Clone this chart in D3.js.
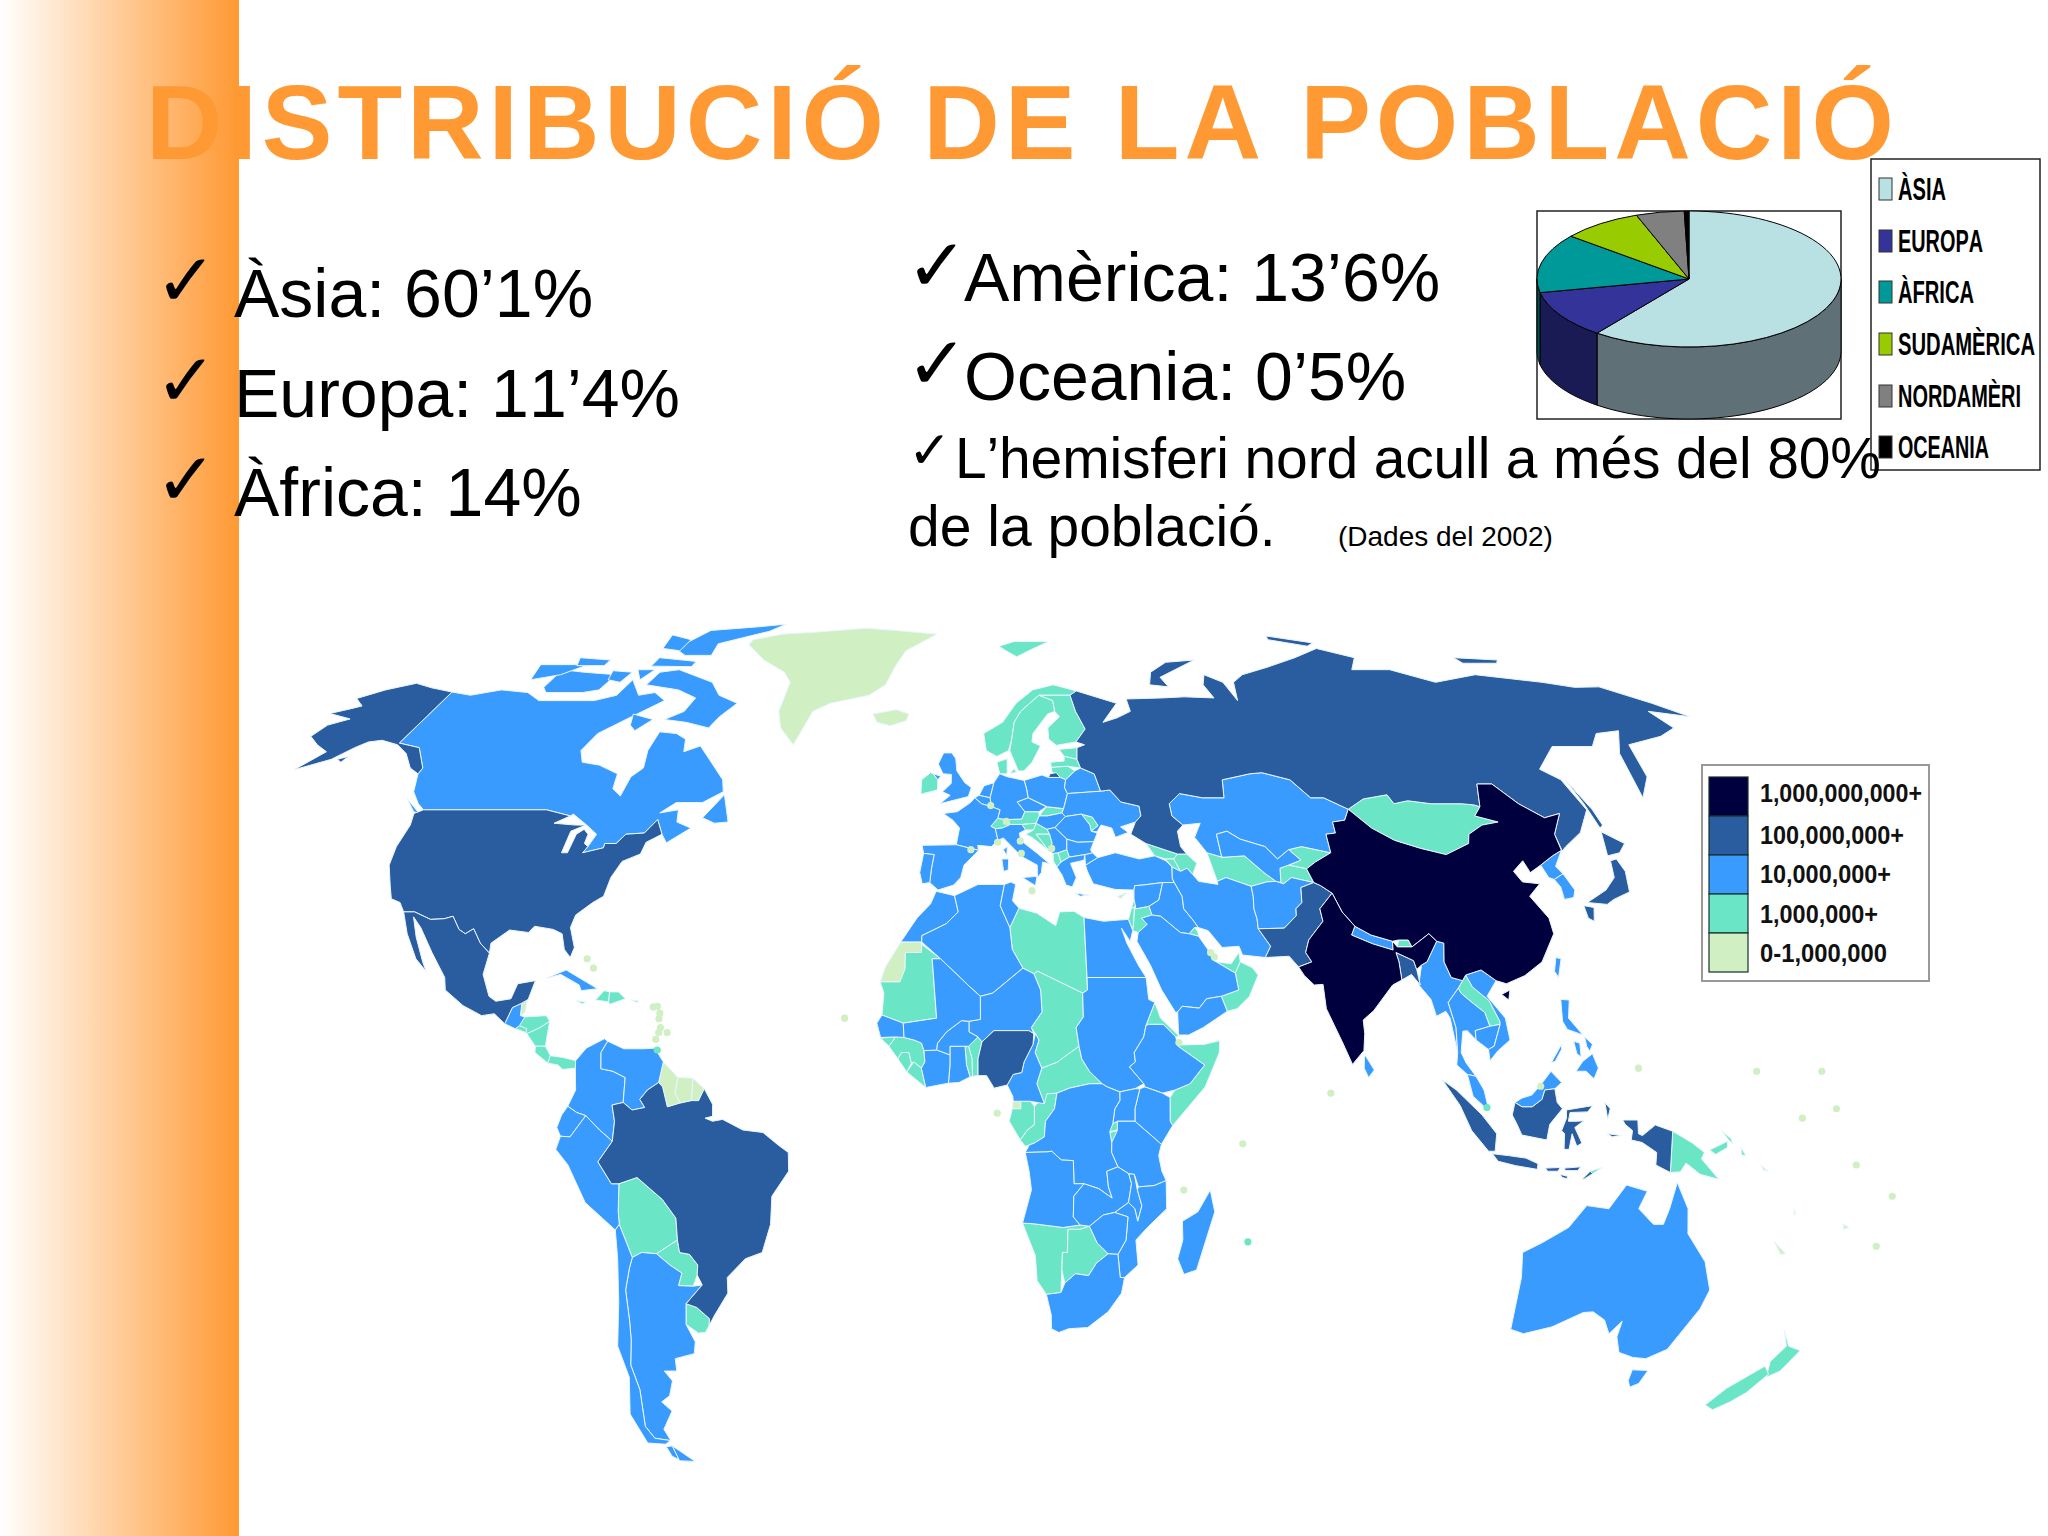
<!DOCTYPE html>
<html>
<head>
<meta charset="utf-8">
<script src="https://d3js.org/d3.v7.min.js"></script>
<style>
html,body{margin:0;padding:0;background:#fff}
svg{display:block}
text{font-family:"Liberation Sans",Arial,sans-serif;font-kerning:none}
</style>
</head>
<body>
<div id="chart"></div>
<script>
// text
const titleText = "DISTRIBUCIÓ DE LA POBLACIÓ";
const leftBullets = ["Àsia: 60’1%", "Europa: 11’4%", "Àfrica: 14%"];
const rightBullets = ["Amèrica: 13’6%", "Oceania: 0’5%"];
const noteLines = ["L’hemisferi nord acull a més del 80%", "de la població."];
const sourceNote = "(Dades del 2002)";

// pie
const pieLabels = ["ÀSIA", "EUROPA", "ÀFRICA", "SUDAMÈRICA", "NORDAMÈRI", "OCEANIA"];
const pieValues = [60.1, 11.4, 14, 8.5, 5.1, 0.5];
const pieColors = ["#b9e0e3", "#333399", "#009999", "#99cc00", "#808080", "#000000"];
const pieWalls = ["#5f7076", "#1a1a55", "#005050", "#506a00", "#444444", "#000000"];

// map legend
const popLabels = ["1,000,000,000+", "100,000,000+", "10,000,000+", "1,000,000+", "0-1,000,000"];
const popColors = ["#00003f", "#2a5ca0", "#3a9bff", "#6ae6c6", "#d0f0c4"];

// country outlines, [lon, lat], by population class
const billionPlus = [
  // China
  [[74.5,37.2],[73.7,39.4],[76,40.5],[80,42],[80.3,45],[82.5,45.2],[82.8,47],[85.7,47.3],[87.5,49.1],[91,46],[95,44],[100,42.7],[105,41.7],[111,43.5],[112,45],[116,46.5],[120,47],[115.5,48],[117.8,49.5],[120.5,53.3],[124,53.3],[127,50],[131,47.7],[135,48.4],[131,45],[130.6,42.4],[128,41.5],[124.4,40],[121.5,38.8],[121,40.7],[118,39],[119,37.3],[122.5,37],[119.3,35],[121.8,31.5],[121.8,29],[118,24.5],[114,22.3],[110,21],[108,21.5],[105.3,23.2],[102,22.4],[101.2,21.5],[99,22],[98,24.5],[98.7,27.5],[97.3,27.8],[96,29],[92,26.9],[91.5,28],[89.5,28],[88.2,27.8],[84,28.8],[81,30.2],[79,32.5],[77.8,35.5],[75.8,36.7]],
  [[108.7,19.3],[110.5,20],[110,18.4]],
  // India
  [[68.2,23.7],[71,24.5],[70,26],[71,28],[74.6,31],[74.5,33],[77.8,35.5],[79,32.5],[81,30.2],[80,28.8],[84,27.4],[88,26.4],[88.2,27.8],[89,26.9],[92,26.9],[96,29],[97.3,27.8],[94.5,24.5],[93.3,24],[92.2,23.3],[91.8,24.7],[88.5,26],[88.8,24.5],[88.9,21.6],[86.9,20.8],[82.5,16.7],[80.2,15.2],[80.3,13],[79.9,10.3],[77.5,8.1],[75.8,11.5],[73,17],[72.8,20.9],[71,20.8],[69.2,22.3]]
];

const hundredMillionPlus = [
  // USA and Alaska
  [[-123,49],[-95,49],[-89,48],[-92,46.8],[-87,46.5],[-84.7,46.5],[-87.5,45.5],[-87.8,42],[-86.5,42],[-86,45],[-84.7,45.8],[-83.4,45],[-83.5,43.5],[-82.5,43],[-83.2,42],[-79,42.8],[-79,43.5],[-76.5,43.5],[-75,45],[-71,45.2],[-69,47.4],[-67,45],[-70,43.7],[-70.5,41.8],[-74,40.6],[-75.5,38],[-76,35],[-78,34],[-81,32],[-81.5,30],[-80,26.8],[-80.5,25.2],[-82,26.5],[-83,29],[-85,29.7],[-89,30.2],[-90,29.2],[-94,29.6],[-97.3,27.5],[-97.2,25.9],[-99.5,27.5],[-101.5,29.8],[-103,29],[-104.5,29.7],[-106.5,31.8],[-108.2,31.4],[-111,31.3],[-114.8,32.5],[-117.1,32.5],[-118.5,34],[-120.6,34.6],[-122,36.8],[-124,40],[-124.5,43],[-124,46.5],[-124.7,48.4]],
  [[-141,69.6],[-148,70.4],[-154,71.3],[-160,70],[-165,68.4],[-161,67],[-163,66.5],[-167,65.6],[-160,64.6],[-164,63.5],[-165,61.5],[-161,60],[-157,58.8],[-160.5,55.7],[-154,57.5],[-151,59.5],[-149,60.5],[-146,60.8],[-141,60],[-137,58.5],[-133,56],[-130,55],[-130,56],[-135,59.5],[-141,60.3]],
  [[-152.5,57.5],[-150.5,58],[-151,57]],
  // Mexico
  [[-117.1,32.5],[-114.8,32.5],[-111,31.3],[-108.2,31.4],[-106.5,31.8],[-104.5,29.7],[-103,29],[-101.5,29.8],[-99.5,27.5],[-97.2,25.9],[-97.8,22.5],[-96,19],[-94.5,18.2],[-91.5,18.6],[-90.5,21],[-87,21.5],[-88,18.5],[-89.2,17.9],[-91,17.2],[-92.2,14.6],[-94.5,16.2],[-97,15.9],[-101,17.5],[-105,20],[-105.5,22],[-109,26],[-112.5,30],[-114.7,31.7],[-113,28.5],[-110.5,24.5],[-109.5,23],[-112,25],[-115,29]],
  // Brazil
  [[-60.8,5.2],[-60,4.5],[-59,1.3],[-56.5,1.9],[-54.2,2.3],[-52.8,2.3],[-51.7,4.2],[-50,1.7],[-50,-0.2],[-51.5,-0.5],[-50,-1],[-48,-0.7],[-44,-2.4],[-40,-2.8],[-37,-4.8],[-35,-6],[-35,-9],[-38.5,-13],[-39,-17.5],[-41,-22],[-44.5,-23],[-48.5,-26],[-48.7,-28.5],[-52,-32],[-53.5,-33.7],[-53.2,-32.6],[-55.5,-30.8],[-57.6,-30.2],[-53.8,-27.2],[-54.6,-25.6],[-54.3,-24],[-55.8,-22.3],[-57.8,-22],[-58,-20],[-58,-16.5],[-60.5,-13.5],[-65.3,-10],[-69,-11],[-70.5,-11],[-73,-7.5],[-70,-4.2],[-69.5,-1],[-70,1.6],[-67.8,2],[-66,0.8],[-63.5,1.2],[-64.5,2.5],[-63,4]],
  // Nigeria
  [[2.8,6.3],[2.8,9],[3.6,11.7],[6,13.5],[13,13.5],[14,13],[13.8,11.3],[12,8.5],[11.5,6.8],[9.8,6.5],[8.6,4.8],[6,4.3],[4.5,6.3]],
  // Russia
  [[31,69.8],[41,67.5],[36,64],[40,64.8],[44,66],[44,68.3],[54,68.5],[60,68.7],[68,68.5],[67,71],[69,73],[73,71.5],[74,68],[76,71.5],[80,73],[89,74.5],[100,76.5],[110,78.5],[118,76.5],[113,74],[124,74],[133,71.5],[147,73],[163,71.5],[170,70.5],[177,70.6],[185,67.5],[190,65],[181,66],[182,63],[176,61.5],[165.5,60],[162,54.5],[156.7,51],[161,58.5],[167,62.5],[160.5,62],[156,59.7],[146,59.7],[138,55.8],[141,54],[141.7,49],[137,45.3],[132,43],[130.7,42.3],[131,45],[135,48.4],[131,47.7],[127,50],[124,53.3],[120.5,53.3],[117.8,49.5],[116.7,49.8],[114,50],[107,50],[102,50.5],[98.5,50],[98,51.5],[92,50.8],[87.5,49.1],[83,51],[80,51],[77,54],[71,55.2],[68,55],[61,54],[60,51],[55,51],[50,51.7],[47,50],[47,48],[49,46.5],[47.5,45.5],[47.5,43],[48.5,41.8],[46.5,41.8],[40,43.5],[37,45],[38.5,47],[40,48],[40,49.6],[36,50.3],[34,52.3],[31.8,52.1],[31,55],[28,56],[27.5,57.5],[28,59.5],[30,60],[28,60.5],[31,62.8],[29.5,66],[29,69]],
  [[52,71],[57,70.6],[56,72.5],[69,76],[60,75.5],[54,73.5]],
  [[99,81.5],[111,79.7],[108,79],[98,80.5]],
  [[148,76.5],[160,76],[158,75.3],[148,75.3]],
  [[142,54],[143,49],[143,46.5],[142,46],[142,50]],
  [[20,54.4],[22.8,54.4],[22,55.2],[20.5,55]],
  // Pakistan, Bangladesh
  [[61.6,25.2],[63,27],[60.9,29.8],[66.3,29.9],[69.3,31.9],[69.5,33],[71,34],[71.5,36.4],[74.5,37.2],[75.8,36.7],[77.8,35.5],[74.5,33],[74.6,31],[71,28],[70,26],[71,24.5],[68.2,23.7],[66.5,25.4]],
  [[88.5,26],[91.8,24.7],[92.2,23.3],[92.5,20.8],[91,22.5],[88.9,21.6],[88.8,24.5]],
  // Japan
  [[140,41.5],[141.7,45.4],[145.3,43.5],[143,42]],
  [[131,34],[136,36],[139,38],[140,40.7],[141.5,41],[142,39],[140.8,35.7],[136.8,34.5],[135,33.7]],
  [[130,33.5],[132,33.2],[131,31],[130,31.5]],
  // Indonesia
  [[109,0],[109.6,2],[111,1.3],[113,1.3],[115,2.5],[115.6,4],[117.6,4.2],[118,2],[119,1],[116.5,-1.5],[116,-4],[111,-3.2],[110,-1.5]],
  [[95.3,5.6],[98,4],[103,0],[106,-3],[105.8,-5.8],[104.5,-5.8],[101,-2.5],[98.7,1.5]],
  [[105.3,-6.2],[108.5,-6.5],[112,-6.9],[114.5,-7.8],[114.4,-8.7],[110,-8.1],[106.5,-7.4]],
  [[116,-8.5],[119,-8.4],[118.5,-9],[116.5,-9]],
  [[119.8,-8.5],[123,-8.3],[122.5,-8.9],[120,-8.9]],
  [[119,-9.5],[120.5,-9.8],[120.5,-10.2],[119.5,-10]],
  [[123.5,-10.3],[125,-9],[125.5,-9.4],[124,-10.2]],
  [[119.8,0.8],[125,1.5],[124,0.5],[120.5,0.4],[120.2,-1],[122,-1],[123.3,-0.9],[121.5,-2],[123,-4.5],[122,-5],[121,-3],[120.5,-5.5],[119.5,-5.5],[119.5,-3],[118.9,-2.5],[119.8,-0.5]],
  [[127.5,2],[128.5,1],[128,-0.7],[127.7,0.8]],
  [[128,-3],[130.8,-3.3],[129,-3.5]],
  [[131,-0.8],[134,-0.8],[134.2,-3],[135,-3.3],[137.5,-1.6],[141,-2.6],[141,-9.2],[138,-8],[138,-6],[135,-4.4],[132.8,-4],[133,-2.5],[131.5,-1.5]]
];

const tenMillionPlus = [
  // Canada
  [[-141,69.6],[-135,69],[-128,70],[-120,69.5],[-115,68],[-108,68],[-100,68],[-95,69],[-94,72],[-89,69],[-85,69.5],[-81,68],[-87,65],[-93,62],[-94.5,59],[-92.5,57],[-88,56.5],[-82.5,55],[-82,52.5],[-79.5,51.3],[-79,54.5],[-77,56],[-78,59],[-77.5,62.3],[-73,62],[-70,61],[-69,58.8],[-65.5,59.8],[-62,57.5],[-57,54],[-56,52],[-60,50.2],[-66,50.2],[-69,48.5],[-65,49],[-64.5,47],[-61,46],[-65.5,43.6],[-67,45],[-69,47.4],[-71,45.2],[-75,45],[-76.5,43.5],[-79,43.5],[-79,42.8],[-83.2,42],[-82.5,43],[-81.5,45],[-84.5,46.5],[-88.5,48.3],[-89,48],[-95,49],[-123,49],[-125,50],[-128,52],[-130,55],[-130,56],[-135,59.5],[-141,60.3]],
  [[-83,74],[-71,71.5],[-67,69],[-61,67.5],[-64,65],[-65.5,63],[-72,64],[-78,64.5],[-74,66],[-73,68.5],[-79,70],[-89,71],[-88,73.5]],
  [[-117,74],[-110,73.5],[-100,73],[-101,70],[-105,69.5],[-115,69.5],[-117,70.5]],
  [[-125,75],[-111,75],[-116,73],[-123,72]],
  [[-85,83],[-70,84],[-61.5,84.7],[-65,82.8],[-72,81],[-78,79.5],[-77,77],[-85,77],[-90,78.5]],
  [[-92,76.5],[-80,75.7],[-80,74.6],[-92,74.7]],
  [[-116,76.5],[-106,76],[-106,74.8],[-114,74.8]],
  [[-96,81.8],[-88,80.5],[-88,78],[-94,78.5]],
  [[-102,73.8],[-96,73.5],[-97,71.5],[-101,72]],
  [[-95,74],[-90,74],[-92,72]],
  [[-87,65.5],[-81,64.5],[-84,62.5],[-86,63.5]],
  [[-59,47.7],[-55.5,51.5],[-53,47],[-56,46.8]],
  [[-128.3,50.8],[-123.5,48.4],[-125,48.7]],
  // Guatemala, Cuba
  [[-92.2,14.6],[-91,17.2],[-89.2,17.9],[-89.2,15.9],[-88.3,15.7],[-89.2,14.3],[-90,13.8]],
  [[-84.9,21.9],[-81,23.2],[-76,21],[-74.2,20.2],[-77.5,19.9],[-78,20.8],[-82,22.5]],
  // South America
  [[-77.5,8.7],[-75.5,10.7],[-72,12.2],[-71.3,11.8],[-72.5,10],[-72.4,7.4],[-70,7],[-67.5,6],[-67.8,2],[-70,1.6],[-69.5,-1],[-70,-4.2],[-72.5,-2.4],[-75.2,-0.1],[-77,0.4],[-78.8,1.4],[-77.3,4],[-77.5,7.5]],
  [[-71.3,11.8],[-68,10.6],[-64,10.6],[-61.8,10.7],[-60,8.5],[-60.8,5.2],[-63,4],[-64.5,2.5],[-63.5,1.2],[-66,0.8],[-67.8,2],[-67.5,6],[-70,7],[-72.4,7.4],[-72.5,10]],
  [[-78.8,1.4],[-77,0.4],[-75.2,-0.1],[-78.4,-3.5],[-80.3,-3.4],[-81,-2],[-80,0]],
  [[-80.3,-3.4],[-78.4,-3.5],[-75.2,-0.1],[-72.5,-2.4],[-70,-4.2],[-73,-7.5],[-70.5,-11],[-69,-11],[-69.5,-15.5],[-69.5,-17.5],[-70.4,-18.4],[-76,-14],[-79,-8],[-81.3,-5.5]],
  [[-67.5,-22.8],[-65.5,-22],[-62.5,-22.2],[-60,-24],[-57.7,-25.3],[-58.7,-27.3],[-55.7,-27.4],[-53.8,-27.2],[-57.6,-30.2],[-58.3,-33.5],[-57,-36.3],[-57.7,-38.2],[-62,-39],[-62.3,-41],[-65,-41],[-63.8,-42.6],[-65.3,-45],[-67.5,-46],[-65.8,-47.5],[-69,-50.5],[-68.4,-52.4],[-71.9,-52],[-73,-50],[-71.5,-44],[-71.9,-40],[-70.5,-36],[-70,-33],[-69.7,-28],[-68.3,-24.5]],
  [[-70.4,-18.4],[-69.5,-17.5],[-67.5,-22.8],[-68.3,-24.5],[-69.7,-28],[-70,-33],[-70.5,-36],[-71.9,-40],[-71.5,-44],[-73,-50],[-71.9,-52],[-68.4,-52.4],[-70,-53],[-74,-52.8],[-75.5,-48],[-73,-42],[-73.7,-37],[-71.5,-30],[-70.5,-23]],
  [[-70,-53.4],[-68.5,-53.3],[-68.2,-55.6],[-69.5,-55]],
  [[-68.5,-53.3],[-64.5,-55.9],[-68.2,-55.8]],
  // Africa
  [[-5.9,35.8],[-2,35.1],[-1.2,32.5],[-3.7,30.6],[-8.7,28.7],[-8.7,27.7],[-13,27.7],[-9.8,31.5],[-7,33.8]],
  [[-8.7,27.7],[-8.7,28.7],[-3.7,30.6],[-1.2,32.5],[-2,35.1],[3,36.9],[8.6,36.9],[7.6,33.5],[9.5,30],[9.9,26.5],[12,23.5],[5.8,19.5],[3.3,19],[1.2,20.5],[-4.8,25]],
  [[8.6,36.9],[10,37.3],[11,36.9],[10.2,34.3],[11.5,33.1],[9.5,30],[7.6,33.5]],
  [[25,31.6],[29,31],[32.3,31.2],[34.2,31.3],[34.9,29.5],[34.2,27.8],[32.6,29.9],[33.5,27.5],[35.6,23.9],[37,22],[25,22]],
  [[25,22],[37,22],[37.3,18.5],[38.5,18],[36.5,14.3],[36,12.5],[34,10],[34.2,8.5],[33,7.7],[35.8,5],[34,4.2],[31,3.7],[28.5,4.5],[27.5,5],[25,7],[23.5,9],[23,11],[22.5,14],[24,15.7],[24,19.5],[25,20]],
  [[36.5,14.3],[37,14.5],[40,14.5],[42.4,12.5],[42.8,11],[48,8],[45,5],[42,4],[39.5,3.5],[36,4.5],[35.8,5],[33,7.7],[34.2,8.5],[34,10],[36,12.5]],
  [[41,2.8],[41,-1],[41.5,-1.7],[39.3,-4.7],[37.6,-3.5],[34,-1],[34,1],[35,4.2],[36,4.5],[39.5,3.5]],
  [[31,3.7],[34,4.2],[35,4.2],[34,1],[34,-1],[30.5,-1],[29.6,-1.4],[30,1],[31,2.3]],
  [[30.5,-1],[34,-1],[37.6,-3.5],[39.3,-4.7],[38.8,-6.5],[39.5,-9],[40.4,-10.5],[38,-11.3],[34.9,-11.5],[34,-9.5],[32.9,-9.4],[30.7,-8.3],[29.4,-6],[29.4,-4.4],[30.5,-2.5]],
  [[12.2,-6],[13,-4.8],[14,-4.5],[16,-3.5],[16.2,-1],[18,1],[18.5,3.5],[21,4.3],[25,5],[27.5,5],[28.5,4.5],[31,3.7],[31,2.3],[30,1],[29.6,-1.4],[29,-2.7],[29.4,-4.4],[29.4,-6],[30.7,-8.3],[28.5,-9],[28.9,-11.5],[29.7,-13.3],[27,-11.8],[24,-11],[22,-11],[21.8,-7.3],[19.4,-7.2],[17.5,-5.8],[16.5,-5.9]],
  [[8.6,4.8],[9.7,3],[9.8,2.2],[13.2,2.2],[16,1.8],[14.5,5],[15.5,7.5],[14.2,10],[15,12],[14.3,13],[13.8,11.3],[12,8.5],[11.5,6.8],[9.8,6.5]],
  [[12,23.5],[14.2,22.6],[15.5,20],[15.7,16.5],[13.5,14],[14,13],[13,13.5],[6,13.5],[3.6,11.7],[2.8,12.5],[1,13.3],[1,15],[3.3,15.3],[3.3,19],[5.8,19.5]],
  [[-3.1,5.1],[-2.8,8],[-2.8,11],[0.2,11],[0.5,8],[1.2,6.1],[-1,5.2]],
  [[-5.5,10.4],[-2.8,9.6],[-2.8,11],[0.9,11],[2.8,12.5],[1,13.3],[1,15],[-0.5,15.1],[-3.5,13.3],[-5.3,11.5]],
  [[-7.6,4.4],[-3.1,5.1],[-2.8,8],[-2.8,9.6],[-5.5,10.4],[-8,10.3],[-7.8,8.5],[-8.5,7.5]],
  [[-17.5,14.7],[-16.5,16],[-12.2,14.7],[-12,12.4],[-13.7,12.5],[-16.7,12.4]],
  [[-12.2,14.7],[-5.5,15.5],[-6.5,25],[-4.8,25],[1.2,20.5],[3.3,19],[3.3,15.3],[1,15],[-0.5,15.1],[-3.5,13.3],[-5.3,11.5],[-5.5,10.4],[-8,10.3],[-8.5,11.5],[-10,12],[-12,12.4]],
  [[12.2,-6],[16.5,-5.9],[17.5,-5.8],[19.4,-7.2],[21.8,-7.3],[22,-11],[24,-11],[22,-13],[22,-16.3],[23.4,-17.6],[20,-18],[14,-17.4],[11.8,-17.3],[13.5,-12],[13,-9]],
  [[22,-13],[24,-11],[27,-11.8],[29.7,-13.3],[28.9,-11.5],[28.5,-9],[30.7,-8.3],[32.9,-9.4],[33.5,-11],[33,-14],[30.3,-15.6],[28,-16],[25.3,-17.8],[23.4,-17.6],[22,-16.3]],
  [[32.9,-9.4],[34,-9.5],[34.7,-12],[35.7,-14.5],[35,-17],[34.3,-15],[33,-14],[33.5,-11]],
  [[34.9,-11.5],[38,-11.3],[40.4,-10.5],[40.7,-15],[37,-18],[34.8,-20],[35.5,-24],[32.9,-26],[32,-26],[31.3,-22.3],[32.8,-20],[33,-16.3],[30.3,-15.6],[33,-14],[34.3,-15],[35,-17],[35.7,-14.5],[34.7,-12]],
  [[25.3,-17.8],[28,-16],[30.3,-15.6],[33,-16.3],[32.8,-20],[31.3,-22.3],[29.3,-22.2],[27,-20.5]],
  [[17,-28.7],[20,-28.4],[20.7,-26.9],[22.8,-25.4],[25.5,-25.7],[27,-23.7],[29.3,-22.2],[31.3,-22.3],[32,-26],[32.9,-26],[32.5,-28.5],[30,-31.5],[26,-34],[22,-34.2],[20,-34.8],[18.4,-34.2],[18.2,-32]],
  [[49.3,-12],[50.4,-15.5],[47.5,-24.8],[45,-25.5],[43.5,-23],[44.3,-20],[44,-17],[47,-15.5]],
  // Middle East and central Asia
  [[26.2,40],[29,41.2],[33,42],[38,41],[41.5,41.5],[43.7,40.7],[44.8,39.7],[44.5,37.8],[44.8,37.2],[42.3,37.2],[38,36.8],[36.3,36.7],[36,36],[32,36.1],[30.5,36.4],[27.5,37],[26.5,39]],
  [[26.2,40],[26.3,41.7],[28,42],[29,41.2]],
  [[36,36],[36.3,36.7],[38,36.8],[42.3,37.2],[41,34.4],[38.8,33.4],[36,33],[35.8,34.6]],
  [[38.8,33.4],[41,34.4],[42.3,37.2],[44.8,37.2],[46,35],[46,33],[47.8,31],[48.5,30],[47.7,30],[46.5,29],[44.7,29.2],[41,31.8],[39.2,32]],
  [[36,29.2],[38,30.5],[37,31.5],[39.2,32],[41,31.8],[44.7,29.2],[46.5,29],[48.4,28.6],[50,26.5],[50.8,24.8],[51.5,24.5],[55.2,22.7],[55.6,20],[52,19],[49,18.6],[47.4,17.1],[44,17.4],[43,16.5],[42.6,16.4],[40,20],[38,24],[35.6,27.8]],
  [[43,12.8],[45,12.8],[48,14],[53,16.6],[52,19],[49,18.6],[47.4,17.1],[44,17.4],[43,16.5]],
  [[44.8,39.7],[46.5,39],[48,39.5],[49,38.5],[50,37.4],[54,36.9],[54,37.4],[56,38],[61,36.6],[61,35],[60.7,33],[61,31.4],[60.9,29.8],[63,27],[61.6,25.2],[57,25.6],[56.5,27],[53,26.8],[50.5,29.5],[48.5,30],[47.8,31],[46,33],[46,35],[44.8,37.2],[44.5,37.8]],
  [[61,35],[61,36.6],[64.5,37.3],[66.5,37.4],[68,37],[70,38],[74.5,37.2],[71.5,36.4],[71,34],[69.5,33],[69.3,31.9],[66.3,29.9],[60.9,29.8],[61,31.4],[60.7,33]],
  [[47,50],[50,51.7],[55,51],[60,51],[61,54],[68,55],[71,55.2],[77,54],[80,51],[83,51],[87.5,49.1],[85.7,47.3],[82.8,47],[82.5,45.2],[80.3,45],[80,42],[74,43],[71,42.5],[68,41],[66,43],[61,44.2],[58.5,45.5],[56,45],[56,41.3],[53,42],[51,44.5],[53,46.8],[49,46.5],[47,48]],
  [[56,45],[58.5,45.5],[61,44.2],[66,43],[68,41],[71,42.5],[73,40.8],[70,40],[68,39.5],[67.5,37.2],[66.5,37.4],[64.5,38.7],[61,41.5],[57,41.3],[56,41.3]],
  [[80,28.8],[81,30.2],[84,28.8],[88.2,27.8],[88,26.4],[84,27.4]],
  [[80,9.7],[81.8,7.2],[80.6,6],[79.8,7.5]],
  // East and south east Asia
  [[124.4,40],[128,41.5],[130.6,42.4],[127.5,39.8],[128.4,38.6],[126,37.7],[125,38]],
  [[126,37.7],[128.4,38.6],[129.4,36],[128.5,34.8],[126.4,34.5],[126.7,36.5]],
  [[121,25.2],[122,25],[120.8,22],[120.2,23]],
  [[92.2,20.8],[93.3,24],[94.5,24.5],[97.3,27.8],[98.7,27.5],[98,24.5],[99,22],[101.2,21.5],[100.1,20.3],[97.7,18],[98.7,14],[98.6,10],[97.7,15.5],[97,16.6],[95,15.8],[94.3,18.5]],
  [[97.7,18],[100.1,20.3],[100.5,19.5],[102.5,18],[104.8,16.4],[105.5,14.2],[102.5,13.5],[102.5,12],[100.9,13.5],[100,13.4],[99.3,10],[100.2,8.3],[102,6.2],[100.3,6.5],[98.3,8],[98.6,10],[98.7,14]],
  [[102.5,13.5],[105.5,14.2],[107.6,14.5],[106,11],[104.8,10.5],[102.5,12]],
  [[102,22.4],[105.3,23.2],[108,21.5],[105.7,19],[108.8,15.5],[109.3,12],[106.7,10.3],[105,8.7],[104.8,10.5],[106,11],[107.6,14.5],[107.6,15],[106,18.3],[103,20.5]],
  [[100.3,6.5],[102,6.2],[103.5,4],[104.2,1.4],[103.4,1.4],[101.3,3]],
  [[109.6,2],[111,1.3],[113,1.3],[115,2.5],[115.6,4],[117.6,4.2],[119,5.2],[117,7],[115,5],[113,3.2],[111,2.7]],
  [[120.5,18.5],[122.2,18.4],[121.5,15.5],[124,12.8],[121,13.7],[120.2,15]],
  [[122,7],[123.5,8.6],[125.5,9.8],[126.5,7.5],[125.5,5.8],[124,7]],
  [[117.2,8.4],[119.5,11.3],[119.4,10.5],[118,8.6]],
  [[124.3,12.5],[125.7,11.3],[125,10.2],[124.5,11]],
  [[122,11.8],[123.2,11.5],[123.2,9.3],[122.4,9.8]],
  // Australia
  [[113.5,-22],[114.2,-26],[115,-34.3],[118,-35],[123.5,-33.9],[129,-31.6],[131,-31.5],[134,-32.8],[136,-35],[137.8,-33],[138,-35.5],[140,-38],[143.5,-38.8],[146.4,-39],[150,-37.5],[153,-31],[153.6,-28],[151,-23.5],[146.3,-19],[145.4,-15],[142.6,-10.8],[141.7,-15],[141,-17.5],[139,-17.5],[135.5,-15],[136.8,-12.2],[132.5,-11.2],[129.5,-15],[125,-14.5],[122,-18],[117,-20.5]],
  [[144.8,-40.8],[148.3,-40.9],[148,-43],[146.5,-43.6],[145.3,-42.5]],
  // Europe
  [[14.2,53.9],[18.5,54.8],[20,54.4],[22.8,54.4],[24,54],[23.5,52.7],[24,51.7],[22.7,49.2],[19,49.5],[14.8,51],[14.6,52.5]],
  [[24,54],[26.5,55.5],[28,56],[31,55],[31.8,52.1],[24,51.7],[23.5,52.7]],
  [[24,51.7],[31.8,52.1],[34,52.3],[36,50.3],[40,49.6],[40,48],[38.5,47],[35,46.2],[36.5,45.3],[33.5,44.5],[33,46],[30.7,46.5],[29.6,45.4],[28.3,45.5],[30,46.4],[29,47.8],[26.6,48.3],[22.9,47.9],[22.2,48.5],[22.7,49.2]],
  [[22.9,47.9],[26.6,48.3],[28.2,46.5],[28.3,45.5],[29.6,45.2],[28.6,43.8],[25,43.7],[22.7,44.2],[20.3,46.1]],
  [[16.2,46.8],[17,48],[18.8,48],[22.2,48.5],[22.9,47.9],[20.3,46.1],[18.5,45.8]],
  [[12.2,50.3],[14.8,51],[18.8,49.5],[17,48.7],[13.8,48.7]],
  [[6,51],[7,53.5],[8.5,55],[10.3,54.5],[14.2,53.9],[14.6,52.5],[14.8,51],[12.2,50.3],[13.8,48.7],[13,47.5],[9.6,47.4],[7.6,47.6],[8.2,49],[6.3,49.5]],
  [[3.5,51.4],[4.7,53],[7,53.5],[6,51]],
  [[2.5,51],[3.5,51.4],[6,51],[6.3,49.5],[4,50]],
  [[-4.7,48.4],[-1.5,48.7],[1.5,50.2],[2.5,51],[4,50],[6.3,49.5],[8.2,49],[7.6,47.6],[6,46.3],[7,45.9],[7.5,44],[6,43],[3,43.2],[3.2,42.4],[-1.7,43.3],[-1,46],[-2.5,47.3]],
  [[8.6,42.5],[9.5,43],[9.3,41.5]],
  [[-9.2,43.2],[-1.7,43.3],[3.2,42.4],[0,40],[-0.7,38],[-2.2,36.8],[-5.5,36],[-7.3,37.2],[-7,39.5],[-6.5,41.7],[-8.8,41.9]],
  [[-8.8,41.9],[-6.5,41.7],[-7,39.5],[-7.3,37.2],[-8.9,37],[-9.5,38.8]],
  [[7,45.9],[8.5,46],[10.4,46.6],[13,46.6],[13.7,45.7],[12.3,45.2],[12.5,44],[16,41.9],[18.5,40.2],[17,40.5],[16.6,38.8],[15.7,38],[15.8,40],[12.5,41.4],[10.5,43],[8.7,44.4],[7.5,44]],
  [[12.5,38],[15.6,38.2],[15.2,36.7]],
  [[8.2,41],[9.7,41],[9.5,39.2],[8.5,39]],
  [[-5,58.6],[-3,58.6],[-2,57.6],[-1.7,55.5],[0.2,53.5],[1.7,52.7],[1,51.2],[-5.5,50],[-3.2,51.4],[-5,52],[-3,53.4],[-3,54.9],[-5,55],[-6.2,56.7]],
  [[-7.3,55],[-5.5,54.6],[-6.2,54]],
  [[18.5,45.8],[20.3,46.1],[22.7,44.2],[22.5,42.5],[20.5,42],[19.4,41.9],[18.5,42.4],[19.4,43.5],[19,45]],
  [[22.7,44.2],[25,43.7],[28.6,43.8],[27.7,42.5],[28,42],[26.3,41.7],[22.9,41.3],[22.5,42.5]],
  [[20,39.7],[21,40.5],[22.9,41.3],[26.3,41.7],[26,40.8],[23,40.3],[24,38],[23,36.5],[21.7,36.8],[21,38.4]],
  [[23.6,35.5],[26.3,35.2],[24.5,35]]
];

const millionPlus = [
  [[-89.2,15.9],[-88.3,15.7],[-84,15.9],[-83.2,15],[-85,14],[-87.5,13],[-89.2,14.3]],
  [[-90,13.8],[-89.2,14.3],[-87.7,13.8],[-87.8,13.2]],
  [[-83.2,15],[-83.7,11],[-85.7,11],[-87.6,13],[-85,14]],
  [[-85.7,11],[-83.7,11],[-82.6,9.5],[-83,8.3],[-85.7,10]],
  [[-83,8.3],[-82.6,9.5],[-80,9.2],[-77.5,8.7],[-77.5,7.5],[-80,7.3],[-81,8]],
  [[-74.4,18.4],[-72.8,19.9],[-71.7,19.7],[-71.7,18.1]],
  [[-71.7,19.7],[-69.9,19.7],[-68.4,18.6],[-71.5,17.7],[-71.7,18.1]],
  [[-78.3,18.3],[-76.3,18.1],[-77,17.8]],
  [[-67.2,18.4],[-65.7,18.3],[-66,18]],
  [[-69,-11],[-65.3,-10],[-60.5,-13.5],[-58,-16.5],[-58,-20],[-62.5,-22.2],[-65.5,-22],[-67.5,-22.8],[-69.5,-17.5],[-69.5,-15.5]],
  [[-58,-20],[-62.5,-22.2],[-60,-24],[-57.7,-25.3],[-58.7,-27.3],[-55.7,-27.4],[-54.6,-25.6],[-54.3,-24],[-55.8,-22.3],[-57.8,-22]],
  [[-53.5,-33.7],[-53.2,-32.6],[-55.5,-30.8],[-57.6,-30.2],[-58.3,-33.5],[-56,-34.9],[-54.5,-34.8]],
  // Africa
  [[-17,21.3],[-13,21.3],[-12,23.4],[-12,26],[-8.7,26],[-8.7,27.3],[-4.8,25],[-6.5,25],[-5.5,15.5],[-12.2,14.7],[-16.5,16],[-16.2,19.5]],
  [[11.5,33.1],[15.2,32.3],[19,30.3],[20,32.5],[23,32.6],[25,31.6],[25,20],[24,19.5],[15,23],[14.2,22.6],[12,23.5],[9.9,26.5],[9.5,30]],
  [[38.5,18],[39.5,15.5],[43.1,12.6],[42.4,12.5],[40,14.5],[37,14.5],[36.5,14.3]],
  [[43,11.2],[48,11.3],[51.2,11.9],[51,10],[48,4.5],[41.5,-1.7],[41,-1],[41,2.8],[42,4],[45,5],[48,8],[42.8,11]],
  [[29,-1.4],[30.5,-1.1],[30.8,-2.3],[29,-2.7]],
  [[29,-2.8],[30.5,-2.5],[30.5,-4],[29.4,-4.4]],
  [[11.2,-4],[12.2,-5],[14,-4.5],[16,-3.5],[16.2,-1],[18,1],[18.5,3.5],[16.5,3.4],[14,1.4],[14,-1.5],[12.5,-2.5]],
  [[9,-1],[9.6,1],[11.3,1],[11.3,2.2],[13.2,2.2],[14,1.4],[14,-1.5],[12.5,-2.5],[11.2,-4]],
  [[14.5,5],[16,1.8],[16.5,3.4],[18.5,3.5],[21,4.3],[25,5],[27.5,5],[25,7],[23.5,9],[23,11],[20,9.3],[18.7,8.5],[15.5,7.5]],
  [[14.3,13],[15,12],[14.2,10],[15.5,7.5],[18.7,8.5],[20,9.3],[23,11],[22.5,14],[24,15.7],[24,19.5],[15,23],[14.2,22.6],[15.5,20],[15.7,16.5],[13.5,14]],
  [[1.7,6.2],[1.6,9],[0.9,11],[2.8,12.5],[3.6,11.7],[2.8,9],[2.8,6.3]],
  [[1.2,6.1],[0.5,8],[0.2,11],[0.9,11],[1.6,9],[1.7,6.2]],
  [[-11.4,6.9],[-7.6,4.4],[-8.5,7.5],[-10,8.5]],
  [[-13.2,9],[-11.4,6.9],[-10.5,8.3],[-11,10],[-12.5,10]],
  [[-15,11],[-13.2,9],[-12.5,10],[-11,10],[-10.5,8.3],[-10,8.5],[-8.5,7.5],[-7.8,8.5],[-8,10.3],[-8.5,11.5],[-10,12],[-12,12.4],[-13.7,12.5]],
  [[-16.7,12.3],[-13.7,12.5],[-15,11]],
  [[-16.8,13.5],[-14,13.6],[-14,13.2],[-16.8,13.2]],
  [[11.8,-17.3],[14,-17.4],[20,-18],[23.4,-17.6],[25.3,-17.8],[23.4,-18.3],[21,-18.3],[21,-22],[20,-22],[20,-28.4],[17,-28.7],[15,-26.5],[14.5,-22.5]],
  [[21,-18.3],[23.4,-18.3],[25.3,-17.8],[27,-20.5],[29.3,-22.2],[27,-23.7],[25.5,-25.7],[22.8,-25.4],[20.7,-26.9],[20,-24.8],[20,-22],[21,-22]],
  [[27.2,-29.7],[28.7,-28.7],[29.4,-29.6],[28,-30.6]],
  [[30.8,-26.3],[32,-26],[32,-27.2],[31,-27.2]],
  // Asia
  [[40,43.5],[46.5,41.8],[45.5,41],[43.7,41],[41.5,41.5]],
  [[43.7,41],[45.5,41],[46.5,39],[44.8,39.7]],
  [[45.5,41],[46.5,41.8],[48.5,41.8],[50.3,40.3],[49,38.5],[48,39.5],[46.5,39]],
  [[35.8,34.6],[36.6,34.2],[35.7,33.2],[35.1,33.1]],
  [[34.2,31.3],[35.1,33.1],[35.7,33.2],[35.3,31],[34.9,29.5]],
  [[35.3,31],[35.7,33],[36,33],[38.8,33.4],[39.2,32],[37,31.5],[38,30.5],[36,29.2],[34.9,29.5]],
  [[47.7,30],[48.3,29.4],[48.4,28.6],[46.5,29]],
  [[51.5,24.5],[54.5,24.2],[56.3,26],[56.4,24.5],[55.2,22.7]],
  [[56.4,24.5],[58.7,23.6],[59.8,22.4],[57.7,19],[55,17],[53,16.6],[52,19],[55.6,20],[55.2,22.7]],
  [[53,42],[56,41.3],[57,41.3],[61,41.5],[64.5,38.7],[66.5,37.4],[64.5,37.3],[61,36.6],[56,38],[54,37.4],[53.5,39.5]],
  [[71,42.5],[74,43],[80,42],[76,40.5],[73.7,39.4],[70,40],[73,40.8]],
  [[68,39.5],[70,40],[73.7,39.4],[74.5,37.2],[70,38],[68,37],[67.5,37.2]],
  [[87.5,49.1],[92,50.8],[98,51.5],[98.5,50],[102,50.5],[107,50],[114,50],[116.7,49.8],[117.8,49.5],[115.5,48],[120,47],[116,46.5],[112,45],[111,43.5],[105,41.7],[100,42.7],[95,44],[91,46]],
  [[89,26.9],[92,26.9],[91.5,28],[89.5,28]],
  [[100.1,20.3],[101.2,21.5],[102,22.4],[103,20.5],[106,18.3],[107.6,15],[107.6,14.5],[105.5,14.2],[104.8,16.4],[102.5,18],[100.5,19.5]],
  [[125,-9],[127.3,-8.4],[125.5,-9.4]],
  // Oceania
  [[141,-2.6],[145,-4.5],[147.5,-6],[147,-7],[150.8,-10.3],[147,-9.5],[144,-7.7],[143,-9.1],[141,-9.2]],
  [[148.5,-5.6],[152,-4.2],[152,-5.2],[149.8,-6.3]],
  [[150.8,-2.6],[152.7,-3.8],[153,-4.7],[151.5,-3.3]],
  [[154.7,-5.2],[155.8,-6.5],[155,-6.4]],
  [[172.7,-34.5],[175.5,-37],[178.5,-37.7],[177,-41],[175,-42],[173.5,-39.5],[175,-37]],
  [[173,-40.2],[175,-41.5],[173,-44.5],[171,-46],[168.5,-47.3],[166,-46.5],[168,-43.8]],
  // Europe
  [[11,79],[16,80],[27,80],[20,78],[16,76.7],[13,78]],
  [[31,69.8],[29,69],[25,69],[20.5,69],[15,66],[13,64],[12,61],[11,59],[8,58],[5.5,59],[5,62],[10,64],[14,67.5],[19,70],[25,71]],
  [[20.5,69],[24,68],[24,66],[22,65.5],[17.5,62],[17,60.5],[19,59.8],[16.5,57],[14.3,55.5],[13,55.5],[11.3,59],[12,61],[13,64],[15,66]],
  [[25,69],[29,69],[29.5,66],[31,62.8],[28,60.5],[23,59.9],[21.3,61],[21.5,63],[25,65],[24,66],[24,68],[20.5,69]],
  [[8,57],[10.5,57.6],[10.3,55],[8.5,55]],
  [[12,55.9],[12.5,55.3],[11,55]],
  [[23.5,59.2],[28,59.5],[27.5,57.5],[24.5,58]],
  [[21,57],[24.3,57.2],[24.5,58],[27.5,57.5],[28,56],[25,56.3],[21,56.1]],
  [[21,56.1],[25,56.3],[26.5,55.5],[24,54],[22.8,54.4],[21,55.3]],
  [[26.6,48.3],[29,47.8],[30,46.4],[28.3,45.5],[28.2,46.5]],
  [[17,48],[18.8,49.5],[22.7,49.2],[22.2,48.5],[18.8,48]],
  [[9.6,47.4],[13,47.5],[13.8,48.7],[17,48.7],[17,48],[16.2,46.8],[13,46.6],[10.4,46.6]],
  [[6,46.3],[7.6,47.6],[9.6,47.4],[10.4,46.6],[8.5,46],[7,45.9]],
  [[13.7,45.7],[13,46.6],[16.2,46.8],[15.5,45.7]],
  [[13.7,45],[15.5,45.7],[16.2,46.8],[18.5,45.8],[19,45],[16,45],[18.5,42.4],[15,44.5]],
  [[16,45],[19,45],[19.4,43.5],[18.5,42.4]],
  [[19.4,42],[20.5,42],[21,40.5],[20,39.7],[19.4,40.6]],
  [[20.5,42],[22.5,42.5],[22.9,41.3],[21,40.5]],
  [[-10,54],[-8,55.2],[-7.3,55],[-6.2,54],[-6.2,52.3],[-10,51.6]]
];

const underMillion = [
  [[-68,79.3],[-60,76],[-52,73.5],[-49,71.5],[-49,66],[-47,63],[-42.5,60],[-40,66],[-36,67.5],[-26,69],[-22,71],[-20,75],[-18,78],[-9,82],[-23,83],[-33,83.6],[-50,82.5],[-60,82],[-68,80.5]],
  [[-24,65.5],[-18,66.3],[-14.5,65.5],[-15,64.3],[-19,63.4],[-22.5,64]],
  [[-13,27.7],[-8.7,27.7],[-8.7,26],[-12,26],[-12,23.4],[-13,21.3],[-17,21.3],[-16,23.7]],
  [[-89.2,17.9],[-88.2,18.4],[-88.3,16.5],[-89.2,15.9]],
  [[-60,8.5],[-57,6],[-57.5,3.5],[-56.5,1.9],[-59,1.3],[-60,4.5],[-60.8,5.2]],
  [[-57,6],[-54,5.9],[-54.2,2.3],[-56.5,1.9],[-57.5,3.5]],
  [[-54,5.9],[-51.7,4.2],[-52.8,2.3],[-54.2,2.3]],
  [[9.6,1],[11.3,1],[11.3,2.2],[9.8,2.2]],
  [[32.3,35],[34.5,35.6],[33,34.6]],
  [[166.7,-15],[167.3,-16],[166.9,-15.9]],
  [[159,-8],[160.5,-9],[159.5,-8.8]],
  [[164,-20.2],[167,-22.2],[166,-22.3]],
  [[177.3,-17.5],[178.6,-18],[177.5,-18.3]]
];

// tiny countries, drawn as dots
const tinyStates = [[6.1,49.7],[9.5,47.1],[1.5,42.5],[7.4,43.7],[12.4,43.9],[12.5,41.9],[19.2,42.7],[14.4,35.9],[51.2,25.3],[50.5,26],[43,11.6],[114.8,4.6],[-24,15.5],[6.6,0.3],[44,-12],[55.5,-4.6],[73,3.5],[134.5,7.5],[158,7],[171,7],[173.5,1],[166.7,-0.5],[178,-8],[186,-13],[185,-21],[-77,25],[-75.5,23.5],[-61.8,17.4],[-62.6,17.3],[-61.2,16.3],[-61.3,15.4],[-60.9,14],[-61.2,13.2],[-59.5,13.2],[-61.7,12.1]];
const tinyMillion = [[57.5,-20.3],[104,1.2],[-61.3,10.4]];

// planar Robinson lookup
const robLat = [0,5,10,15,20,25,30,35,40,45,50,55,60,65,70,75,80,85,90];
const robLen = [1,.9986,.9954,.99,.9822,.973,.96,.9427,.9216,.8962,.8679,.835,.7986,.7597,.7186,.6732,.6213,.5722,.5322];
const robDep = [0,.062,.124,.186,.248,.31,.372,.434,.4958,.5571,.6176,.6769,.7346,.7903,.8435,.8936,.9394,.9761,1];

const width = 2048, height = 1536;
const svg = d3.select("#chart").append("svg").attr("width", width).attr("height", height);

const defs = svg.append("defs");
const band = defs.append("linearGradient").attr("id", "band");
band.append("stop").attr("offset", 0).attr("stop-color", "#ffffff");
band.append("stop").attr("offset", 1).attr("stop-color", "#ff9933");

svg.append("rect").attr("width", width).attr("height", height).attr("fill", "#fff");
svg.append("rect").attr("width", 239).attr("height", height).attr("fill", "url(#band)");

// map
const lenScale = d3.scaleLinear().domain(robLat).range(robLen);
const depScale = d3.scaleLinear().domain(robLat).range(robDep);
const mapX = d3.scaleLinear().domain([0, 100]).range([964, 1467]);
const mapY = d3.scaleLinear().domain([0, 1]).range([1115, 611]);
const robinson = d3.geoTransform({
  point(lon, lat) {
    const a = Math.abs(lat);
    this.stream.point(mapX(lon * lenScale(a)), mapY(Math.sign(lat) * depScale(a)));
  }
});
const geoPath = d3.geoPath(robinson).pointRadius(3.6);
const popColor = d3.scaleOrdinal(popLabels, popColors);

const mapLayers = [
  [popLabels[4], underMillion],
  [popLabels[3], millionPlus],
  [popLabels[2], tenMillionPlus],
  [popLabels[1], hundredMillionPlus],
  [popLabels[0], billionPlus]
];
const mapGroup = svg.append("g").attr("class", "map");
mapLayers.forEach(([label, rings]) => {
  mapGroup.append("g").selectAll("path")
    .data(rings)
    .join("path")
    .attr("d", r => geoPath({type: "Polygon", coordinates: [r.concat([r[0]])]}))
    .attr("fill", popColor(label))
    .attr("stroke", "#e9f6ff")
    .attr("stroke-width", 1)
    .attr("stroke-linejoin", "round");
});
mapGroup.append("path")
  .attr("d", geoPath({type: "MultiPoint", coordinates: tinyStates}))
  .attr("fill", popColor(popLabels[4]));
mapGroup.append("path")
  .attr("d", geoPath({type: "MultiPoint", coordinates: tinyMillion}))
  .attr("fill", popColor(popLabels[3]));

// map legend
const legendBand = d3.scaleBand().domain(popLabels).range([777, 972]);
const popWidths = d3.scaleOrdinal(popLabels, [162, 144, 131, 118, 127]);
const popBase = d3.scaleOrdinal(popLabels, [802, 844, 883, 923, 962]);
const mapLegend = svg.append("g");
mapLegend.append("rect").attr("x", 1702).attr("y", 765).attr("width", 227).attr("height", 216)
  .attr("fill", "#fff").attr("stroke", "#999").attr("stroke-width", 2);
mapLegend.selectAll("rect.sw").data(popLabels).join("rect").attr("class", "sw")
  .attr("x", 1709).attr("y", d => legendBand(d)).attr("width", 39).attr("height", legendBand.bandwidth())
  .attr("fill", d => popColor(d)).attr("stroke", "#16302e").attr("stroke-width", 1.2);
mapLegend.selectAll("text").data(popLabels).join("text")
  .attr("x", 1760).attr("y", d => popBase(d))
  .attr("font-size", 25).attr("font-weight", "bold").attr("fill", "#111")
  .attr("textLength", d => popWidths(d)).attr("lengthAdjust", "spacingAndGlyphs")
  .text(d => d);

// 3d pie
const cx = 1689, cy = 279, rx = 152, ry = 68, depth = 72;
svg.append("rect").attr("x", 1537).attr("y", 211).attr("width", 304).attr("height", 208)
  .attr("fill", "#fff").attr("stroke", "#222").attr("stroke-width", 1.5);
const slices = d3.pie().sort(null).value(d => d)(pieValues);
const px = a => cx + rx * Math.sin(a);
const py = a => cy - ry * Math.cos(a);
const pieGroup = svg.append("g");
const lineGen = d3.line();
// outer wall, only the front half shows
slices.forEach((s, i) => {
  const a0 = Math.max(s.startAngle, Math.PI / 2), a1 = Math.min(s.endAngle, Math.PI * 1.5);
  if (a1 <= a0) return;
  const angles = d3.range(0, 41).map(k => a0 + (a1 - a0) * k / 40);
  const top = angles.map(a => [px(a), py(a)]);
  const bottom = angles.slice().reverse().map(a => [px(a), py(a) + depth]);
  pieGroup.append("path").attr("d", lineGen(top.concat(bottom)) + "Z")
    .attr("fill", pieWalls[i]).attr("stroke", "#000").attr("stroke-width", 1);
});
const topGroup = pieGroup.append("g").attr("transform", `translate(${cx},${cy}) scale(1,${ry / rx})`);
const arc = d3.arc().innerRadius(0).outerRadius(rx);
topGroup.selectAll("path").data(slices).join("path")
  .attr("d", arc)
  .attr("fill", (d, i) => pieColors[i])
  .attr("stroke", "#000").attr("stroke-width", 1).attr("vector-effect", "non-scaling-stroke");

// pie legend
const pieBase = [200, 252, 303, 355, 407, 458];
const pieWidths = [48, 85, 76, 137, 123, 91];
svg.append("rect").attr("x", 1871).attr("y", 159).attr("width", 169).attr("height", 311)
  .attr("fill", "#fff").attr("stroke", "#222").attr("stroke-width", 1.5);
const pieLegend = svg.append("g");
pieLegend.selectAll("rect").data(pieLabels).join("rect")
  .attr("x", 1879).attr("y", (d, i) => pieBase[i] - 22).attr("width", 13).attr("height", 22)
  .attr("fill", (d, i) => pieColors[i]).attr("stroke", "#333").attr("stroke-width", 1);
pieLegend.selectAll("text").data(pieLabels).join("text")
  .attr("x", 1898).attr("y", (d, i) => pieBase[i])
  .attr("font-size", 31).attr("font-weight", "bold").attr("fill", "#000")
  .attr("textLength", (d, i) => pieWidths[i]).attr("lengthAdjust", "spacingAndGlyphs")
  .text(d => d);

// title
svg.append("text").attr("x", 146).attr("y", 159)
  .attr("font-size", 106).attr("font-weight", "bold").attr("fill", "#ff9933")
  .attr("textLength", 1748).attr("lengthAdjust", "spacing")
  .text(titleText);

// bullets
function check(x, y, size) {
  svg.append("text").attr("x", x).attr("y", y)
    .attr("font-size", size).attr("font-weight", "bold").attr("fill", "#000")
    .style("font-family", "'DejaVu Sans'").text("✓");
}
leftBullets.forEach((t, i) => {
  check(155, 306 + i * 99.5, 74);
  svg.append("text").attr("x", 234).attr("y", 317 + i * 99.5)
    .attr("font-size", 68).attr("fill", "#000").text(t);
});
rightBullets.forEach((t, i) => {
  check(906, 291 + i * 98, 74);
  svg.append("text").attr("x", 964).attr("y", 301 + i * 98.5)
    .attr("font-size", 68).attr("fill", "#000").text(t);
});
check(908, 468, 52);
svg.append("text").attr("x", 955).attr("y", 478).attr("font-size", 57).attr("fill", "#000")
  .attr("textLength", 926).attr("lengthAdjust", "spacing").text(noteLines[0]);
svg.append("text").attr("x", 908).attr("y", 546).attr("font-size", 57).attr("fill", "#000").text(noteLines[1]);
svg.append("text").attr("x", 1338).attr("y", 546).attr("font-size", 28).attr("fill", "#000").text(sourceNote);
</script>
</body>
</html>
